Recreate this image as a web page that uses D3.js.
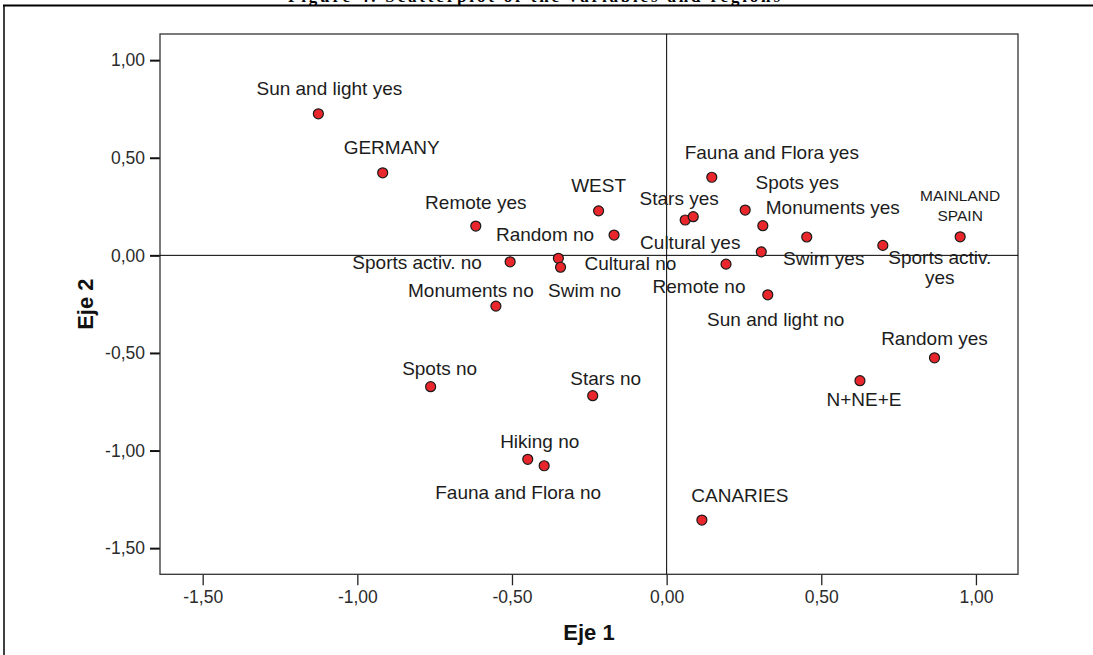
<!DOCTYPE html>
<html>
<head>
<meta charset="utf-8">
<script src="https://cdn.jsdelivr.net/npm/d3@7"></script>
<style>
  body { margin: 0; background: #fff; }
  svg { display: block; font-family: "Liberation Sans", Arial, sans-serif; }
  .tick text { fill: #2b2b2b; font-size: 17.5px; }
  .ptlabel { fill: #1c1c1c; font-size: 19px; }
</style>
</head>
<body>
<div id="chart"></div>
<script>
// category names of the points (Hiking yes has no visible label in the original)
const names = ["Sun and light yes", "GERMANY", "Remote yes", "WEST", "Random no",
  "Sports activ. no", "Cultural no", "Swim no", "Monuments no", "Fauna and Flora yes",
  "Stars yes", "Hiking yes", "Spots yes", "Monuments yes", "Cultural yes",
  "Swim yes", "Sports activ. yes", "MAINLAND SPAIN", "Remote no", "Sun and light no",
  "Random yes", "N+NE+E", "Spots no", "Stars no", "Hiking no",
  "Fauna and Flora no", "CANARIES"];
// dimension 1 (Eje 1)
const eje1 = [-1.126, -0.918, -0.617, -0.220, -0.170,
  -0.506, -0.350, -0.343, -0.552, 0.146,
  0.060, 0.086, 0.254, 0.311, 0.306,
  0.453, 0.699, 0.949, 0.192, 0.327,
  0.866, 0.625, -0.763, -0.239, -0.449,
  -0.396, 0.114];
// dimension 2 (Eje 2)
const eje2 = [0.725, 0.423, 0.150, 0.228, 0.104,
  -0.033, -0.015, -0.061, -0.260, 0.400,
  0.181, 0.198, 0.232, 0.152, 0.018,
  0.094, 0.051, 0.095, -0.045, -0.202,
  -0.525, -0.642, -0.673, -0.719, -1.045,
  -1.078, -1.356];
const tickVals = [-1.5, -1.0, -0.5, 0.0, 0.5, 1.0];
const caption = "Figure 4. Scatterplot of the variables and regions";

// label placement (pixels from the point), null = label hidden
const labelOffsets = [[11, -25], [9, -25], [0, -24], [0, -25], [-69, -1],
  [-93, 1], [72, 5], [24, 23], [-25, -16], [60, -25],
  [-6, -22], null, [52, -28], [70, -18], [-71, -9],
  [17, 21], [57, 12], [0, -41], [-27, 22], [8, 25],
  [0, -19], [4, 19], [9, -18], [13, -17], [12, -18],
  [-26, 27], [38, -25]];
// labels that SPSS wrapped on two lines
const wrapped = { "Sports activ. yes": ["Sports activ.", "yes"], "MAINLAND SPAIN": ["MAINLAND", "SPAIN"] };

const W = 1093, H = 655;
const margin = {top: 34, right: 75, bottom: 80.7, left: 160};
const width = W - margin.left - margin.right,
      height = H - margin.top - margin.bottom;

const locale = d3.formatLocale({decimal: ",", thousands: ".", grouping: [3], currency: ["", ""], minus: "-"});
const fmt = locale.format(".2f");

const svg = d3.select("#chart").append("svg")
  .attr("width", W).attr("height", H);

// page border pieces + caption (its top is cut by the page edge, as in the scan)
svg.append("text")
  .attr("x", 288).attr("y", 2)
  .attr("font-family", "Liberation Serif, Times New Roman, serif")
  .attr("font-weight", "bold").attr("font-size", 17)
  .attr("textLength", 492).attr("lengthAdjust", "spacing")
  .attr("fill", "#000")
  .text(caption);
svg.append("line").attr("x1", 3).attr("x2", W).attr("y1", 5.5).attr("y2", 5.5)
  .attr("stroke", "#000").attr("stroke-width", 2);
svg.append("line").attr("x1", 4).attr("x2", 4).attr("y1", 5).attr("y2", H)
  .attr("stroke", "#000").attr("stroke-width", 1.5);

const g = svg.append("g").attr("transform", `translate(${margin.left},${margin.top})`);

const x = d3.scaleLinear().domain([-1.638, 1.136]).range([0, width]);
const y = d3.scaleLinear().domain([-1.634, 1.134]).range([height, 0]);

// axes
const xAxis = g.append("g")
  .attr("transform", `translate(0,${height})`)
  .call(d3.axisBottom(x).tickValues(tickVals).tickFormat(fmt).tickSize(11).tickPadding(5));
xAxis.select(".domain").remove();
xAxis.selectAll(".tick line").attr("stroke", "#222").attr("stroke-width", 1.3);

const yAxis = g.append("g")
  .call(d3.axisLeft(y).tickValues(tickVals).tickFormat(fmt).tickSize(10).tickPadding(5));
yAxis.select(".domain").remove();
yAxis.selectAll(".tick line").attr("stroke", "#111").attr("stroke-width", 2);
yAxis.selectAll(".tick text").attr("dy", "0.33em");

// frame
g.append("rect").attr("width", width).attr("height", height)
  .attr("fill", "none").attr("stroke", "#333").attr("stroke-width", 1.3);

// reference lines at 0
g.append("line").attr("x1", 0).attr("x2", width).attr("y1", y(0)).attr("y2", y(0))
  .attr("stroke", "#000").attr("stroke-width", 1);
g.append("line").attr("x1", x(0)).attr("x2", x(0)).attr("y1", 0).attr("y2", height)
  .attr("stroke", "#000").attr("stroke-width", 1);

const data = names.map((n, i) => ({name: n, x: eje1[i], y: eje2[i], off: labelOffsets[i]}));

// points
g.selectAll(".dot").data(data).enter().append("circle")
  .attr("class", "dot")
  .attr("cx", d => x(d.x))
  .attr("cy", d => y(d.y))
  .attr("r", 5)
  .attr("fill", "#e8262b")
  .attr("stroke", "#1a1a1a")
  .attr("stroke-width", 1.2);

// labels
const lab = g.selectAll(".ptlabel").data(data.filter(d => d.off)).enter().append("text")
  .attr("class", "ptlabel")
  .attr("text-anchor", "middle")
  .attr("x", d => x(d.x) + d.off[0])
  .attr("y", d => y(d.y) + d.off[1])
  .attr("dy", "0.35em");
lab.each(function(d) {
  const t = d3.select(this);
  const lines = wrapped[d.name];
  if (!lines) { t.text(d.name); return; }
  const small = d.name === "MAINLAND SPAIN";
  if (small) t.style("font-size", "15.5px");
  lines.forEach((l, i) => {
    t.append("tspan").attr("x", x(d.x) + d.off[0])
      .attr("dy", i === 0 ? "0.35em" : (small ? 19.3 : 19.5))
      .text(l);
  });
});

// axis titles
svg.append("text")
  .attr("x", margin.left + width / 2).attr("y", 632).attr("dy", "0.35em")
  .attr("text-anchor", "middle").attr("font-weight", "bold").attr("font-size", 22)
  .attr("fill", "#111").text("Eje 1");
svg.append("text")
  .attr("transform", `translate(85,${margin.top + height / 2}) rotate(-90)`)
  .attr("dy", "0.35em")
  .attr("text-anchor", "middle").attr("font-weight", "bold").attr("font-size", 22)
  .attr("fill", "#111").text("Eje 2");
</script>
</body>
</html>
